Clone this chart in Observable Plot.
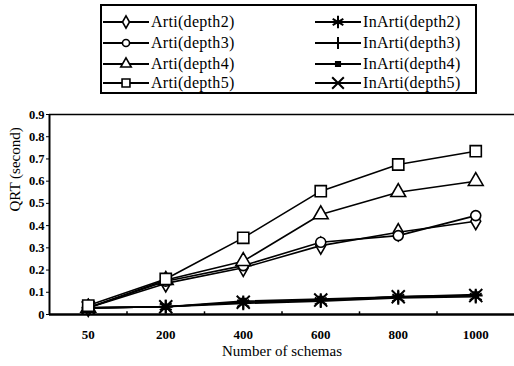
<!DOCTYPE html>
<html>
<head>
<meta charset="utf-8">
<script src="https://cdn.jsdelivr.net/npm/d3@7"></script>
<script src="https://cdn.jsdelivr.net/npm/@observablehq/plot@0.6"></script>
<style>
  body { margin: 0; background: #fff; }
  #wrap { position: relative; width: 514px; height: 366px; overflow: hidden; font-family: "Liberation Serif", "DejaVu Serif", serif; }
  #legend { position: absolute; left: 100px; top: 4px; width: 377px; height: 90px; border: 2px solid #000; box-sizing: border-box; }
  .item { position: absolute; display: flex; align-items: center; height: 20px; font-size: 16px; letter-spacing: 0.3px; color: #000; white-space: nowrap; }
  .item svg { margin-right: 1px; flex: none; }
  #chart { position: absolute; left: 0; top: 100px; }
</style>
</head>
<body>
<div id="wrap">
  <div id="legend"></div>
  <div id="chart"></div>
</div>
<script>
// ---- data ----
const categories = ["50", "200", "400", "600", "800", "1000"];
const seriesNames = ["Arti(depth2)", "Arti(depth3)", "Arti(depth4)", "Arti(depth5)",
                     "InArti(depth2)", "InArti(depth3)", "InArti(depth4)", "InArti(depth5)"];
const arti2   = [0.030, 0.140, 0.210, 0.310, 0.370, 0.420];
const arti3   = [0.030, 0.150, 0.220, 0.325, 0.355, 0.445];
const arti4   = [0.030, 0.155, 0.240, 0.450, 0.550, 0.600];
const arti5   = [0.040, 0.160, 0.345, 0.555, 0.675, 0.735];
const inArti2 = [0.030, 0.035, 0.050, 0.060, 0.075, 0.080];
const inArti3 = [0.030, 0.035, 0.055, 0.065, 0.080, 0.085];
const inArti4 = [0.030, 0.035, 0.060, 0.070, 0.080, 0.090];
const inArti5 = [0.030, 0.035, 0.055, 0.065, 0.080, 0.085];
const yTicks = [0, 0.1, 0.2, 0.3, 0.4, 0.5, 0.6, 0.7, 0.8, 0.9];
const xLabel = "Number of schemas";
const yLabel = "QRT (second)";

const seriesValues = [arti2, arti3, arti4, arti5, inArti2, inArti3, inArti4, inArti5];
const symbols = ["diamond", "circle", "triangle", "square", "asterisk", "plus", "square", "times"];
const fills   = ["white", "white", "white", "white", "none", "none", "black", "none"];
const radii   = [5.2, 5, 5.5, 6.3, 6.5, 4.5, 2.6, 6];

const data = [];
seriesValues.forEach((vals, s) => vals.forEach((v, i) => data.push({ s, series: seriesNames[s], i, value: v })));
const boundaries = categories.slice(1).map((_, i) => i + 0.5);

// ---- chart ----
const marks = [
  Plot.ruleY([0.9], { stroke: "#000", strokeWidth: 1.5 }),
  Plot.ruleX([-0.5], { stroke: "#000", strokeWidth: 2 }),
  Plot.ruleX(boundaries, { x: d => d, y1: 0, y2: 0.012, stroke: "#000", strokeWidth: 1.5 }),
  Plot.axisX({ ticks: categories.map((_, i) => i), tickFormat: i => categories[i], tickSize: 0, tickPadding: 15,
               label: null, fontWeight: "bold", fontSize: 13 }),
  Plot.axisY({ ticks: yTicks, tickFormat: d => d === 0 ? "0" : d.toFixed(1), tickSize: 3, tickPadding: 2,
               label: null, fontWeight: "bold", fontSize: 12.5 }),
  Plot.text([xLabel], { text: d => d, frameAnchor: "bottom", dy: 41, fontSize: 15 }),
  Plot.text([yLabel], { text: d => d, frameAnchor: "left", rotate: -90, dx: -34, dy: -3, fontSize: 15, letterSpacing: "0.4px" })
];
// draw InArti first, Arti on top
for (const s of [4, 5, 6, 7, 0, 1, 2, 3]) {
  const d = data.filter(r => r.s === s);
  marks.push(Plot.line(d, { x: "i", y: "value", stroke: "#000", strokeWidth: 1.6 }));
  marks.push(Plot.dot(d, { x: "i", y: "value", symbol: () => symbols[s], r: radii[s],
                           fill: fills[s], stroke: "#000", strokeWidth: s >= 4 ? 2 : 1.6 }));
}
marks.push(Plot.ruleY([0], { stroke: "#000", strokeWidth: 2.5 }));

const chart = Plot.plot({
  width: 514,
  height: 266,
  marginTop: 14,
  marginBottom: 52,
  marginLeft: 49,
  marginRight: 0,
  x: { type: "linear", domain: [-0.5, categories.length - 0.5] },
  y: { domain: [0, 0.9] },
  style: { fontFamily: "Liberation Serif, serif", fontSize: "12px", color: "#000", background: "white", overflow: "visible" },
  marks
});
document.getElementById("chart").appendChild(chart);

// ---- legend ----
const legend = document.getElementById("legend");
const rowsTop = [6, 27, 48, 67];
seriesNames.forEach((name, s) => {
  const col = s < 4 ? 0 : 1;
  const row = s % 4;
  const item = document.createElement("div");
  item.className = "item";
  item.style.left = (col === 0 ? 0 : 212) + "px";
  item.style.top = rowsTop[row] + "px";
  const svg = d3.create("svg").attr("width", 48).attr("height", 20);
  svg.append("line").attr("x1", 1).attr("x2", 47).attr("y1", 10).attr("y2", 10)
     .attr("stroke", "#000").attr("stroke-width", 2);
  const sym = { diamond: d3.symbolDiamond, circle: d3.symbolCircle, triangle: d3.symbolTriangle, square: d3.symbolSquare,
                asterisk: d3.symbolAsterisk, plus: d3.symbolPlus, times: d3.symbolTimes }[symbols[s]];
  svg.append("path").attr("transform", "translate(24,10)")
     .attr("d", d3.symbol(sym, Math.PI * radii[s] * radii[s] * (s >= 4 ? 0.8 : 0.5))())
     .attr("fill", fills[s]).attr("stroke", "#000").attr("stroke-width", s >= 4 ? 2 : 1.6);
  item.appendChild(svg.node());
  const span = document.createElement("span");
  span.textContent = name;
  item.appendChild(span);
  legend.appendChild(item);
});
</script>
</body>
</html>
